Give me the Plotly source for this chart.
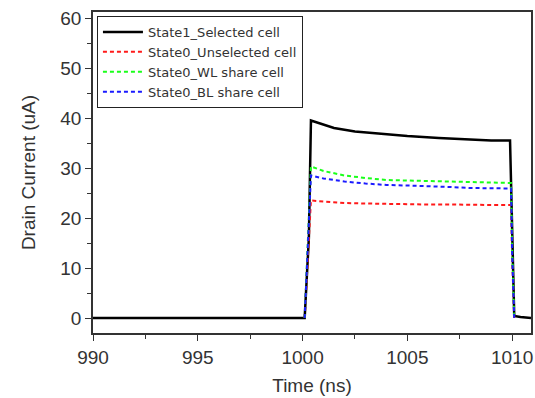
import plotly.graph_objects as go

# Data
t_sel = [990, 1000.1, 1000.2, 1000.3, 1000.4, 1000.8, 1001.5, 1002.5, 1003.5, 1005, 1006.5, 1008, 1009, 1009.9, 1010.0, 1010.1, 1010.4, 1010.9]
i_sel = [0, 0, 8, 16, 39.5, 38.9, 38.0, 37.3, 36.9, 36.4, 36.0, 35.7, 35.5, 35.5, 15, 0.4, 0.2, 0]

t_st0 = [1000.1, 1000.4, 1001, 1002, 1003, 1004, 1005, 1006, 1007, 1008, 1009, 1009.95, 1010.0, 1010.1]
i_unsel = [0, 23.5, 23.3, 23.0, 22.9, 22.8, 22.7, 22.7, 22.7, 22.6, 22.6, 22.6, 12, 0]
i_wl = [0, 30.3, 29.4, 28.5, 28.0, 27.6, 27.5, 27.4, 27.3, 27.2, 27.1, 27.0, 14, 0]
i_bl = [0, 28.5, 27.9, 27.3, 26.9, 26.6, 26.5, 26.4, 26.2, 26.0, 25.9, 25.9, 13, 0]

names = ["State1_Selected cell", "State0_Unselected cell", "State0_WL share cell", "State0_BL share cell"]

x_ticks = [990, 995, 1000, 1005, 1010]
y_ticks = [0, 10, 20, 30, 40, 50, 60]

FONT = "Liberation Sans, Arial"

fig = go.Figure()
fig.add_trace(go.Scatter(x=t_sel, y=i_sel, mode="lines", name=names[0],
                         line=dict(color="black", width=2.5)))
fig.add_trace(go.Scatter(x=t_st0, y=i_unsel, mode="lines", name=names[1],
                         line=dict(color="#ff1a1a", width=2, dash="4px,3px")))
fig.add_trace(go.Scatter(x=t_st0, y=i_wl, mode="lines", name=names[2],
                         line=dict(color="#1aff1a", width=2, dash="4px,3px")))
fig.add_trace(go.Scatter(x=t_st0, y=i_bl, mode="lines", name=names[3],
                         line=dict(color="#1a1aff", width=2, dash="4px,3px")))

axis_common = dict(showline=True, linecolor="#333", linewidth=1.5, mirror=True,
                   ticks="outside", ticklen=6, tickwidth=1.2, tickcolor="#333",
                   showgrid=False, zeroline=False,
                   tickfont=dict(family=FONT, size=19, color="#333"))

fig.update_xaxes(range=[990, 1010.9], tickvals=x_ticks,
                 title=dict(text="Time (ns)", font=dict(family=FONT, size=19, color="#333"), standoff=12),
                 minor=dict(ticks="outside", ticklen=4, tickcolor="#333", dtick=2.5, tick0=990),
                 **axis_common)
fig.update_yaxes(range=[-3, 61.2], tickvals=y_ticks,
                 title=dict(text="Drain Current (uA)", font=dict(family=FONT, size=19, color="#333"), standoff=20),
                 minor=dict(ticks="outside", ticklen=4, tickcolor="#333", dtick=5, tick0=0),
                 **axis_common)

fig.update_layout(
    width=535, height=398,
    margin=dict(l=93, r=2, t=12, b=65),
    paper_bgcolor="white", plot_bgcolor="white",
    showlegend=True,
    legend=dict(x=0.009, y=0.9875, xanchor="left", yanchor="top",
                bordercolor="#222", borderwidth=1, bgcolor="white",
                font=dict(family="DejaVu Sans", size=13, color="#333"),
                tracegroupgap=0, itemwidth=40),
)

fig.write_html("out.html")
